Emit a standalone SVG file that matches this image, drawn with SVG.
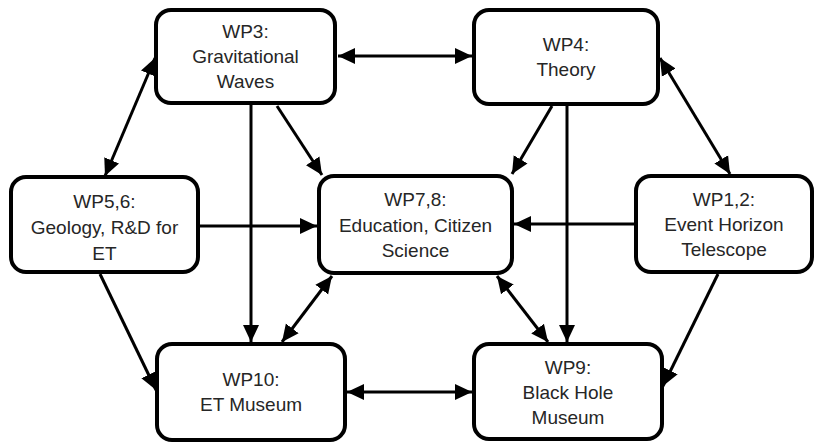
<svg xmlns="http://www.w3.org/2000/svg" width="818" height="443" viewBox="0 0 818 443">
<style>
.box{fill:#fff;stroke:#000;stroke-width:4}
.t{font-family:"Liberation Sans",Arial,sans-serif;font-size:19px;fill:#262626;text-anchor:middle}
.c{stroke:#000;stroke-width:3;fill:none}
.e{marker-end:url(#ah)}
.b{marker-start:url(#ah);marker-end:url(#ah)}
</style>
<defs>
<marker id="ah" markerUnits="userSpaceOnUse" markerWidth="18" markerHeight="18" refX="17" refY="9" orient="auto-start-reverse" viewBox="0 0 18 18">
<path d="M0,1 L17,9 L0,17 z" fill="#000"/>
</marker>
</defs>
<rect width="818" height="443" fill="#fff"/>
<g id="connectors">
<line class="c b" x1="338" y1="56" x2="472" y2="56"/>
<line class="c b" x1="155" y1="58" x2="105" y2="176"/>
<line class="c b" x1="660" y1="58" x2="730" y2="174"/>
<line class="c e" x1="277" y1="106" x2="322" y2="175"/>
<line class="c e" x1="251" y1="105" x2="251" y2="342"/>
<line class="c e" x1="552" y1="106" x2="512" y2="174"/>
<line class="c e" x1="567" y1="106" x2="567" y2="342"/>
<line class="c e" x1="200" y1="226" x2="317" y2="226"/>
<line class="c e" x1="634" y1="224" x2="514" y2="224"/>
<line class="c e" x1="100" y1="274" x2="156" y2="390"/>
<line class="c e" x1="718" y1="274" x2="663" y2="386"/>
<line class="c b" x1="332" y1="276" x2="282" y2="342"/>
<line class="c b" x1="497" y1="276" x2="548" y2="342"/>
<line class="c b" x1="347" y1="392" x2="472" y2="392"/>
</g>
<g id="wp3">
<rect class="box" x="156" y="10" width="179" height="93" rx="15"/>
<text class="t" x="245.5" y="38">WP3:</text>
<text class="t" x="245.5" y="63">Gravitational</text>
<text class="t" x="245.5" y="88">Waves</text>
</g>
<g id="wp4">
<rect class="box" x="474" y="10" width="184" height="94" rx="15"/>
<text class="t" x="566" y="51">WP4:</text>
<text class="t" x="566" y="76">Theory</text>
</g>
<g id="wp56">
<rect class="box" x="11" y="177" width="187" height="95" rx="15"/>
<text class="t" x="104.5" y="208">WP5,6:</text>
<text class="t" x="104.5" y="234">Geology, R&amp;D for</text>
<text class="t" x="104.5" y="260">ET</text>
</g>
<g id="wp78">
<rect class="box" x="319" y="176" width="193" height="97" rx="15"/>
<text class="t" x="415.5" y="206">WP7,8:</text>
<text class="t" x="415.5" y="232">Education, Citizen</text>
<text class="t" x="415.5" y="257">Science</text>
</g>
<g id="wp12">
<rect class="box" x="636" y="176" width="176" height="96" rx="15"/>
<text class="t" x="724" y="206">WP1,2:</text>
<text class="t" x="724" y="231">Event Horizon</text>
<text class="t" x="724" y="256">Telescope</text>
</g>
<g id="wp10">
<rect class="box" x="157" y="344" width="188" height="96" rx="15"/>
<text class="t" x="251" y="386">WP10:</text>
<text class="t" x="251" y="411">ET Museum</text>
</g>
<g id="wp9">
<rect class="box" x="474" y="344" width="188" height="95" rx="15"/>
<text class="t" x="568" y="374">WP9:</text>
<text class="t" x="568" y="399">Black Hole</text>
<text class="t" x="568" y="424">Museum</text>
</g>
</svg>
